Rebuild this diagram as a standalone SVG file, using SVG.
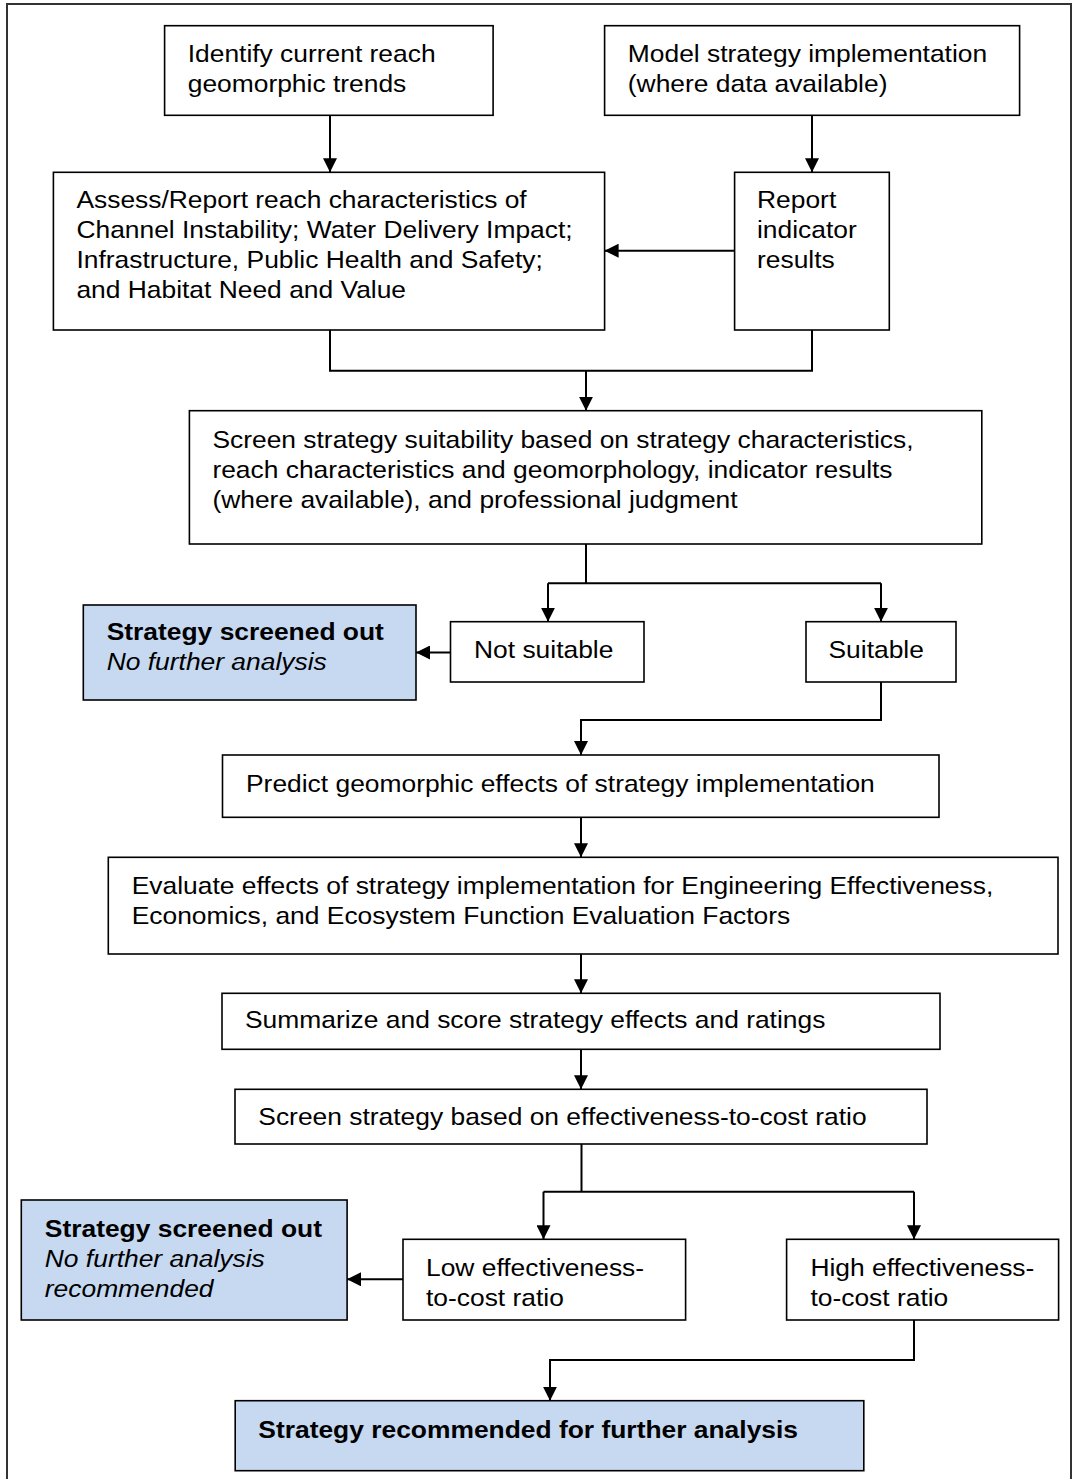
<svg xmlns="http://www.w3.org/2000/svg" width="1073" height="1479" viewBox="0 0 1073 1479">
<defs>
<style>
.box{fill:#ffffff;stroke:#000;stroke-width:1.6}
.blue{fill:#c6d9f1;stroke:#000;stroke-width:1.6}
.t{font-family:"Liberation Sans",Arial,sans-serif;font-size:24px;fill:#000}
.b{font-weight:bold}
.i{font-style:italic}
.c{fill:none;stroke:#000;stroke-width:2}
.a{fill:none;stroke:#000;stroke-width:2;marker-end:url(#arr)}
</style>
<marker id="arr" markerUnits="userSpaceOnUse" viewBox="0 0 14 14" refX="14" refY="7" markerWidth="14" markerHeight="14" orient="auto">
<path d="M0,0 L14,7 L0,14 z" fill="#000"/>
</marker>
</defs>
<rect x="0" y="0" width="1073" height="1479" fill="#fff"/>
<rect x="7" y="4" width="1064" height="1500" fill="none" stroke="#333" stroke-width="2"/>

<g id="connectors">
<path class="a" d="M330,115.3 V172.3"/>
<path class="a" d="M812,115.3 V172.3"/>
<path class="a" d="M734.6,250.7 H604.6"/>
<path class="c" d="M330,330 V370.7 H812 V330"/>
<path class="a" d="M586,370.7 V410.7"/>
<path class="c" d="M586,544 V583.3"/>
<path class="c" d="M548,583.3 H881"/>
<path class="a" d="M548,583.3 V621.7"/>
<path class="a" d="M881,583.3 V621.7"/>
<path class="a" d="M450.5,652.5 H416"/>
<path class="a" d="M881,682 V720 H581 V755"/>
<path class="a" d="M581,817.3 V857.3"/>
<path class="a" d="M581,954 V993.3"/>
<path class="a" d="M581,1049.3 V1089.3"/>
<path class="c" d="M581.5,1144 V1191.7"/>
<path class="c" d="M543.5,1191.7 H914"/>
<path class="a" d="M543.5,1191.7 V1239.3"/>
<path class="a" d="M914,1191.7 V1239.3"/>
<path class="a" d="M403,1279.3 H347"/>
<path class="a" d="M914,1320 V1360 H550 V1400.7"/>
</g>

<g id="n1">
<rect class="box" x="164.6" y="25.7" width="328.5" height="89.6"/>
<text class="t" transform="translate(187.7,61.7) scale(1.1,1)"><tspan x="0" y="0">Identify current reach</tspan><tspan x="0" y="30">geomorphic trends</tspan></text>
</g>
<g id="n2">
<rect class="box" x="604.6" y="25.7" width="415" height="89.6"/>
<text class="t" transform="translate(627.8,61.7) scale(1.1,1)"><tspan x="0" y="0">Model strategy implementation</tspan><tspan x="0" y="30">(where data available)</tspan></text>
</g>
<g id="n3">
<rect class="box" x="53.4" y="172.3" width="551.2" height="157.7"/>
<text class="t" transform="translate(76.4,208.3) scale(1.1,1)"><tspan x="0" y="0">Assess/Report reach characteristics of</tspan><tspan x="0" y="30">Channel Instability; Water Delivery Impact;</tspan><tspan x="0" y="60">Infrastructure, Public Health and Safety;</tspan><tspan x="0" y="90">and Habitat Need and Value</tspan></text>
</g>
<g id="n4">
<rect class="box" x="734.6" y="172.3" width="154.7" height="157.7"/>
<text class="t" transform="translate(757,208.3) scale(1.1,1)"><tspan x="0" y="0">Report</tspan><tspan x="0" y="30">indicator</tspan><tspan x="0" y="60">results</tspan></text>
</g>
<g id="n5">
<rect class="box" x="189.4" y="410.7" width="792.4" height="133.3"/>
<text class="t" transform="translate(212.4,447.7) scale(1.1,1)"><tspan x="0" y="0">Screen strategy suitability based on strategy characteristics,</tspan><tspan x="0" y="30">reach characteristics and geomorphology, indicator results</tspan><tspan x="0" y="60">(where available), and professional judgment</tspan></text>
</g>
<g id="n6">
<rect class="box" x="450.5" y="621.7" width="193.5" height="60.3"/>
<text class="t" transform="translate(474,658.3) scale(1.1,1)">Not suitable</text>
</g>
<g id="n7">
<rect class="box" x="806" y="621.7" width="150" height="60.3"/>
<text class="t" transform="translate(828.5,658.3) scale(1.1,1)">Suitable</text>
</g>
<g id="n8">
<rect class="blue" x="83.3" y="605" width="332.7" height="95"/>
<text class="t" transform="translate(106.7,640) scale(1.1,1)"><tspan class="b" x="0" y="0">Strategy screened out</tspan><tspan class="i" x="0" y="30">No further analysis</tspan></text>
</g>
<g id="n9">
<rect class="box" x="222.5" y="755" width="716.5" height="62.3"/>
<text class="t" transform="translate(246,791.7) scale(1.1,1)">Predict geomorphic effects of strategy implementation</text>
</g>
<g id="n10">
<rect class="box" x="108.3" y="857.3" width="949.7" height="96.7"/>
<text class="t" transform="translate(131.7,894.3) scale(1.1,1)"><tspan x="0" y="0">Evaluate effects of strategy implementation for Engineering Effectiveness,</tspan><tspan x="0" y="29.3">Economics, and Ecosystem Function Evaluation Factors</tspan></text>
</g>
<g id="n11">
<rect class="box" x="222" y="993.3" width="718" height="56"/>
<text class="t" transform="translate(245,1028.3) scale(1.1,1)">Summarize and score strategy effects and ratings</text>
</g>
<g id="n12">
<rect class="box" x="235" y="1089.3" width="692" height="54.7"/>
<text class="t" transform="translate(258.3,1125) scale(1.1,1)">Screen strategy based on effectiveness-to-cost ratio</text>
</g>
<g id="n13">
<rect class="box" x="403" y="1239.3" width="282.6" height="80.7"/>
<text class="t" transform="translate(426,1276) scale(1.1,1)"><tspan x="0" y="0">Low effectiveness-</tspan><tspan x="0" y="30">to-cost ratio</tspan></text>
</g>
<g id="n14">
<rect class="box" x="786.6" y="1239.3" width="272" height="80.7"/>
<text class="t" transform="translate(810.4,1276) scale(1.1,1)"><tspan x="0" y="0">High effectiveness-</tspan><tspan x="0" y="30">to-cost ratio</tspan></text>
</g>
<g id="n15">
<rect class="blue" x="21.3" y="1200" width="325.8" height="120"/>
<text class="t" transform="translate(44.8,1237.3) scale(1.1,1)"><tspan class="b" x="0" y="0">Strategy screened out</tspan><tspan class="i" x="0" y="29.7">No further analysis</tspan><tspan class="i" x="0" y="59.7">recommended</tspan></text>
</g>
<g id="n16">
<rect class="blue" x="235.2" y="1400.7" width="628.6" height="70"/>
<text class="t b" transform="translate(258.3,1438.3) scale(1.1,1)">Strategy recommended for further analysis</text>
</g>
</svg>
